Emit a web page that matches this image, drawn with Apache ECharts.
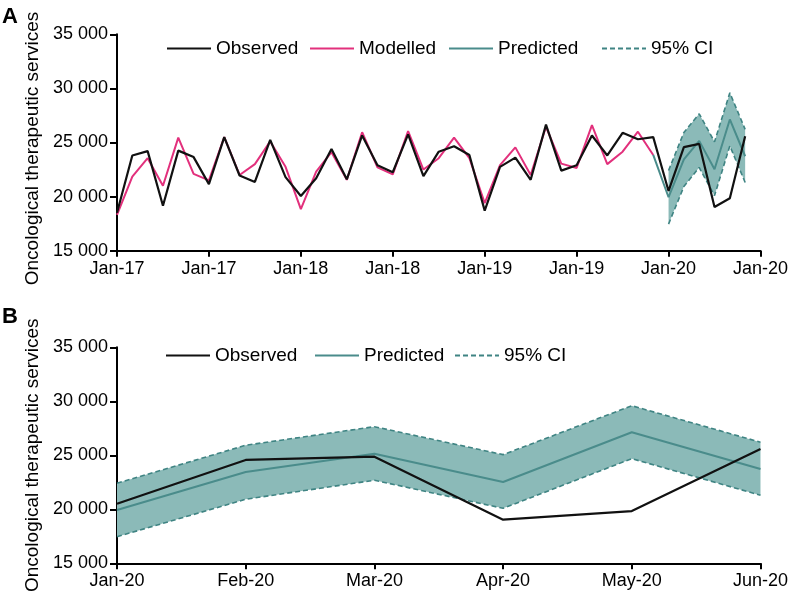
<!DOCTYPE html>
<html><head><meta charset="utf-8">
<script src="https://cdn.jsdelivr.net/npm/echarts@6/dist/echarts.min.js"></script>
<style>html,body{margin:0;padding:0;background:#fff}#c{width:791px;height:597px}</style>
</head><body><div id="c"></div>
<script>
// ---- data ----
const topTickLabels = ['Jan-17','Jan-17','Jan-18','Jan-18','Jan-19','Jan-19','Jan-20','Jan-20'];
const bottomCategories = ['Jan-20','Feb-20','Mar-20','Apr-20','May-20','Jun-20'];
const yTickLabels = ['15 000','20 000','25 000','30 000','35 000'];

// Observed monthly, Jan-17 .. Jun-20
const observed = [18500,23800,24200,19150,24250,23650,21150,25500,21950,21350,25250,21800,
  20050,21700,24400,21600,25650,22900,22250,25750,21900,24150,24650,23850,
  18700,22750,23600,21550,26650,22400,22900,25650,23800,25900,25300,25500,
  20520,24570,24870,19040,19840,25580];
// Modelled monthly, Jan-17 .. Dec-19
const modelled = [18300,21850,23550,21000,25450,22100,21500,25500,22000,23000,25100,22750,
  18850,22300,24100,21550,25950,22700,22050,26050,22500,23550,25450,23550,
  19400,22900,24550,22000,26450,23050,22650,26600,23000,24150,26000,23850];
// Predicted Jan-20 .. Jun-20
const predicted = [19940,23450,25150,22530,27130,23730];
const ciUpper   = [22410,25930,27650,25060,29590,26210];
const ciLower   = [17460,20930,22690,20090,24690,21300];

// ---- build ----
const nMonthsTop = 43; // Jan-17 .. Jul-20 (axis end)
const topCats = [];
for (let i = 0; i < nMonthsTop; i++) topCats.push(String(i));
const pad = n => Array(n).fill(null);
const predTop = pad(35).concat([modelled[35]], predicted);
const lowerTop = pad(36).concat(ciLower);
const bandTop = pad(36).concat(ciUpper.map((u, k) => u - ciLower[k]));
const bandBottom = ciUpper.map((u, k) => u - ciLower[k]);

const FONT = 'Liberation Sans, Arial, sans-serif';
const BLACK = '#111111';
const MAGENTA = '#e2307c';
const TEAL = '#4a8c8b';
const DASH = '#3f8483';
const FILL = '#8bbab8';

function yAxis(gridIndex, namePad) {
  return {
    type: 'value', gridIndex, min: 15000, max: 35000, interval: 5000,
    name: 'Oncological therapeutic services', nameLocation: 'middle', nameGap: 71,
    nameTextStyle: { color: '#000', fontSize: 19, fontFamily: FONT, padding: namePad },
    axisLine: { show: true, lineStyle: { color: '#000', width: 2 } },
    axisTick: { show: true, length: 7, lineStyle: { color: '#000', width: 2 } },
    axisLabel: { color: '#000', fontSize: 18, fontFamily: FONT, margin: 9,
      formatter: v => yTickLabels[Math.round((v - 15000) / 5000)] },
    splitLine: { show: false }
  };
}

const dashStyle = { color: DASH, width: 1.6, type: [5, 3] };

const legendBase = {
  itemWidth: 44, itemHeight: 14, padding: 0,
  textStyle: { color: '#000', fontSize: 19, fontFamily: FONT },
  itemStyle: { opacity: 0, borderWidth: 0 },
  selectedMode: false
};

const option = {
  animation: false,
  backgroundColor: '#fff',
  textStyle: { fontFamily: FONT },
  graphic: [
    { type: 'text', left: 2, top: 6, style: { text: 'A', font: 'bold 22px ' + FONT, fill: '#000' } },
    { type: 'text', left: 2, top: 306, style: { text: 'B', font: 'bold 22px ' + FONT, fill: '#000' } }
  ],
  legend: [
    Object.assign({ left: 166, top: 39, data: ['Observed'] }, legendBase),
    Object.assign({ left: 309, top: 39, data: ['Modelled'] }, legendBase),
    Object.assign({ left: 448, top: 39, data: ['Predicted'] }, legendBase),
    Object.assign({ left: 601, top: 39, data: ['95% CI'] }, legendBase),
    Object.assign({ left: 165, top: 346, data: ['Observed'] }, legendBase),
    Object.assign({ left: 314, top: 346, data: ['Predicted'] }, legendBase),
    Object.assign({ left: 454, top: 346, data: ['95% CI'] }, legendBase)
  ],
  grid: [
    { left: 117, right: 25, top: 34.3, height: 216.4, containLabel: false },
    { left: 117, right: 26.3, top: 347.3, height: 216, containLabel: false }
  ],
  xAxis: [
    {
      type: 'category', gridIndex: 0, data: topCats, boundaryGap: false,
      axisLine: { show: true, lineStyle: { color: '#000', width: 2 } },
      axisTick: { show: true, length: 6, interval: idx => idx % 6 === 0, lineStyle: { color: '#000', width: 2 } },
      axisLabel: { color: '#000', fontSize: 18, fontFamily: FONT, margin: 9, interval: 0,
        formatter: (v, idx) => (idx % 6 === 0 ? topTickLabels[idx / 6] : '') },
      splitLine: { show: false }
    },
    {
      type: 'category', gridIndex: 1, data: bottomCategories, boundaryGap: false,
      axisLine: { show: true, lineStyle: { color: '#000', width: 2 } },
      axisTick: { show: true, length: 6, lineStyle: { color: '#000', width: 2 } },
      axisLabel: { color: '#000', fontSize: 18, fontFamily: FONT, margin: 9, interval: 0 },
      splitLine: { show: false }
    }
  ],
  yAxis: [yAxis(0, [0, 12, 0, 0]), yAxis(1, 0)],
  series: [
    // top panel
    { name: '95% CI', type: 'line', xAxisIndex: 0, yAxisIndex: 0, stack: 'ciA', data: lowerTop,
      symbol: 'none', lineStyle: dashStyle, itemStyle: { color: DASH }, z: 2 },
    { name: '95% CI', type: 'line', xAxisIndex: 0, yAxisIndex: 0, stack: 'ciA', data: bandTop,
      symbol: 'none', lineStyle: dashStyle, itemStyle: { color: DASH }, areaStyle: { color: FILL, opacity: 1 }, z: 2 },
    { name: 'Modelled', type: 'line', xAxisIndex: 0, yAxisIndex: 0, data: modelled,
      symbol: 'none', lineStyle: { color: MAGENTA, width: 2 }, itemStyle: { color: MAGENTA }, z: 3 },
    { name: 'Predicted', type: 'line', xAxisIndex: 0, yAxisIndex: 0, data: predTop,
      symbol: 'none', lineStyle: { color: TEAL, width: 2 }, itemStyle: { color: TEAL }, z: 3 },
    { name: 'Observed', type: 'line', xAxisIndex: 0, yAxisIndex: 0, data: observed,
      symbol: 'none', lineStyle: { color: BLACK, width: 2.2 }, itemStyle: { color: BLACK }, z: 4 },
    // bottom panel
    { name: '95% CI', type: 'line', xAxisIndex: 1, yAxisIndex: 1, stack: 'ciB', data: ciLower,
      symbol: 'none', lineStyle: dashStyle, itemStyle: { color: DASH }, z: 2 },
    { name: '95% CI', type: 'line', xAxisIndex: 1, yAxisIndex: 1, stack: 'ciB', data: bandBottom,
      symbol: 'none', lineStyle: dashStyle, itemStyle: { color: DASH }, areaStyle: { color: FILL, opacity: 1 }, z: 2 },
    { name: 'Predicted', type: 'line', xAxisIndex: 1, yAxisIndex: 1, data: predicted,
      symbol: 'none', lineStyle: { color: TEAL, width: 2 }, itemStyle: { color: TEAL }, z: 3 },
    { name: 'Observed', type: 'line', xAxisIndex: 1, yAxisIndex: 1, data: observed.slice(36),
      symbol: 'none', lineStyle: { color: BLACK, width: 2.2 }, itemStyle: { color: BLACK }, z: 4 }
  ]
};

const chart = echarts.init(document.getElementById('c'), null, { renderer: 'canvas' });
chart.setOption(option);
</script>
</body></html>
